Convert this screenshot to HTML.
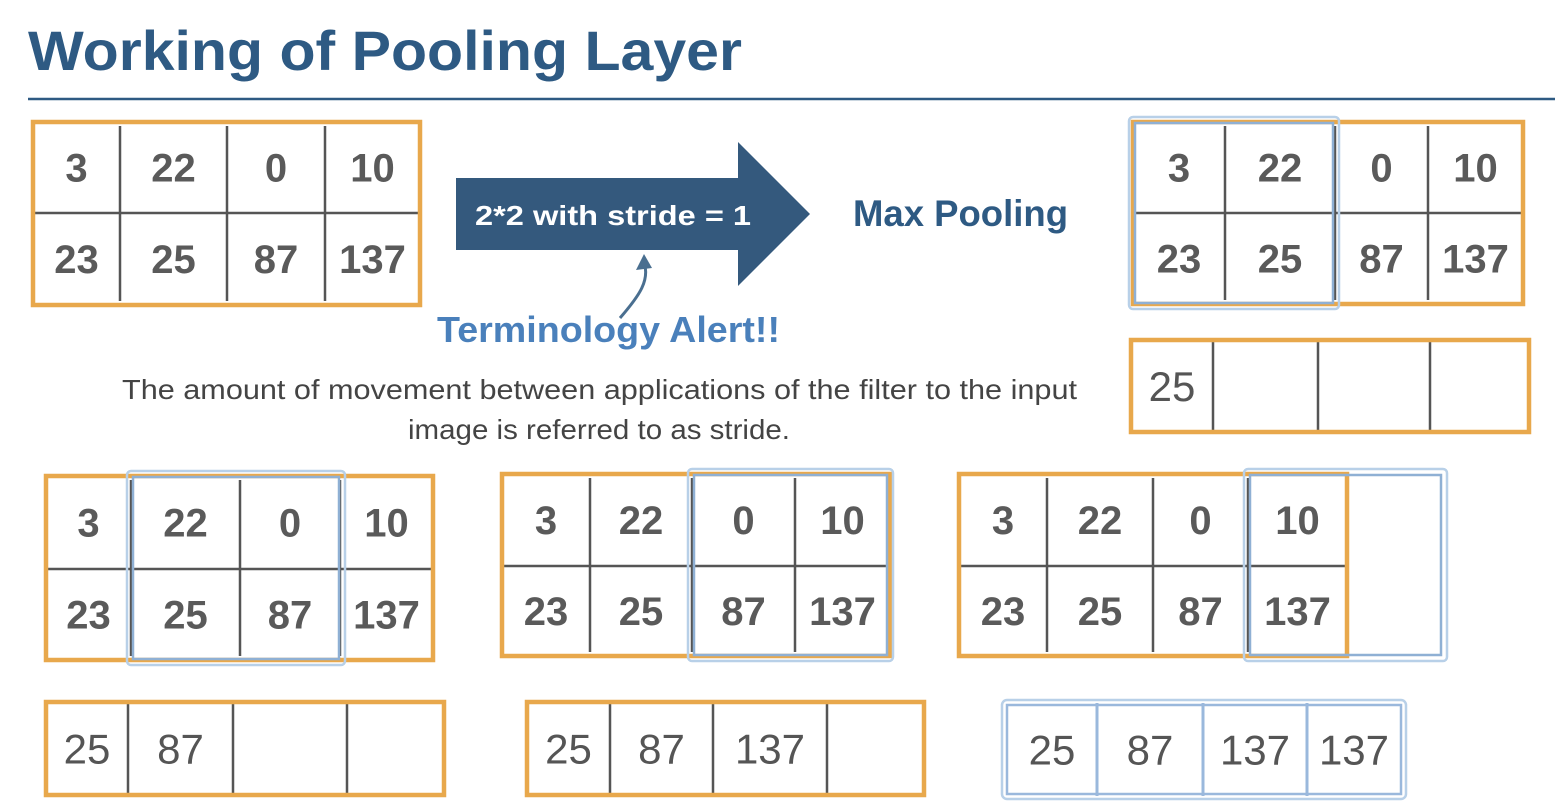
<!DOCTYPE html>
<html><head><meta charset="utf-8"><style>
html,body{margin:0;padding:0;background:#fff;}
svg{display:block;}
</style></head><body>
<svg id="s" width="1562" height="808" viewBox="0 0 1562 808" xmlns="http://www.w3.org/2000/svg">
<text x="28" y="70" textLength="714" lengthAdjust="spacingAndGlyphs" font-family="Liberation Sans, sans-serif" font-weight="bold" font-size="56" fill="#2e5a83">Working of Pooling Layer</text>
<line x1="28" y1="99" x2="1555" y2="99" stroke="#2e5a83" stroke-width="2.5"/>
<g>
<polygon points="456,178 738,178 738,142 810,214 738,286 738,250 456,250" fill="#34597d"/>
<text x="475" y="225" textLength="276" lengthAdjust="spacingAndGlyphs" font-family="Liberation Sans, sans-serif" font-weight="bold" font-size="28" fill="#fff">2*2 with stride = 1</text>
</g>
<text x="853" y="226" textLength="215" lengthAdjust="spacingAndGlyphs" font-family="Liberation Sans, sans-serif" font-weight="bold" font-size="37" fill="#2e5a83">Max Pooling</text>
<path d="M620,318 C640,295 650,280 644,262" fill="none" stroke="#4a6f90" stroke-width="3"/>
<polygon points="644,254 636,270 652,268" fill="#4a6f90"/>
<text x="437" y="342" textLength="343" lengthAdjust="spacingAndGlyphs" font-family="Liberation Sans, sans-serif" font-weight="bold" font-size="36" fill="#4a80bb">Terminology Alert!!</text>
<text x="122" y="399" textLength="955" lengthAdjust="spacingAndGlyphs" font-family="Liberation Sans, sans-serif" font-size="28" fill="#444">The amount of movement between applications of the filter to the input</text>
<text x="408" y="439" textLength="382" lengthAdjust="spacingAndGlyphs" font-family="Liberation Sans, sans-serif" font-size="28" fill="#444">image is referred to as stride.</text>
<g id="g"></g>
</svg>
<script>
const inputValues = [[3,22,0,10],[23,25,87,137]];
const pooledValues = [25,87,137,137];
const NS='http://www.w3.org/2000/svg';
const g=document.getElementById('g');
function mk(tag,attrs,name){const e=document.createElementNS(NS,tag);for(const k in attrs)e.setAttribute(k,attrs[k]);


g.appendChild(e);return e;}
function grid(x0,y0,x1,y1,cols,rowY,win,name){
  const xs=[x0,...cols,x1];
  for(let r=0;r<2;r++)for(let c=0;c<4;c++){
    const t=mk('text',{x:(xs[c]+xs[c+1])/2,y:(r?(rowY+y1)/2:(y0+rowY)/2)+14,'text-anchor':'middle','font-family':'Liberation Sans, sans-serif','font-weight':'bold','font-size':40,fill:'#5a5a5a'},name+'-cell');
    t.textContent=inputValues[r][c];
  }
  cols.forEach(x=>mk('line',{x1:x,y1:y0+4,x2:x,y2:y1-4,stroke:'#555','stroke-width':2.5},name+'-col-divider'));
  mk('line',{x1:x0,y1:rowY,x2:x1,y2:rowY,stroke:'#555','stroke-width':2.5},name+'-row-divider');
  mk('rect',{x:x0,y:y0,width:x1-x0,height:y1-y0,fill:'none',stroke:'#e8a84c','stroke-width':4.5},name+'-border');
  if(win){mk('rect',{x:win[0]-4,y:y0-5,width:win[1]-win[0]+8,height:y1-y0+10,rx:4,fill:'none',stroke:'#b8d0e8','stroke-width':2.5},name+'-window-outer');
   mk('rect',{x:win[0]+2,y:y0+1,width:win[1]-win[0]-4,height:y1-y0-2,fill:'none',stroke:'#8fb0d4','stroke-width':2.5},name+'-window');}
}
function out(x0,y0,x1,y1,cols,n,blue,name){
  const xs=[x0,...cols,x1];
  for(let i=0;i<n;i++){const t=mk('text',{x:(xs[i]+xs[i+1])/2,y:(y0+y1)/2+15,'text-anchor':'middle','font-family':'Liberation Sans, sans-serif','font-size':42,fill:'#555'},name+'-value');t.textContent=pooledValues[i];}
  const col=blue?'#9ab8dc':'#555';
  cols.forEach(x=>mk('line',{x1:x,y1:y0+(blue?-2:2),x2:x,y2:y1-(blue?-2:2),stroke:col,'stroke-width':blue?3:2.5},name+'-divider'));
  if(blue){mk('rect',{x:x0-5,y:y0-5,width:x1-x0+10,height:y1-y0+10,rx:5,fill:'none',stroke:'#b8d0e8','stroke-width':2.5},name+'-outer');
   mk('rect',{x:x0,y:y0,width:x1-x0,height:y1-y0,fill:'none',stroke:'#9ab8dc','stroke-width':2.5},name+'-border');}
  else mk('rect',{x:x0,y:y0,width:x1-x0,height:y1-y0,fill:'none',stroke:'#e8a84c','stroke-width':4.5},name+'-border');
}
grid(33,122,420,305,[120,227,325],213,null,'input-grid');
grid(1133,122,1523,304,[1225,1335,1428],213,[1133,1335],'step1-grid');
out(1131,340,1529,432,[1213,1318,1430],1,false,'step1-output');
grid(46,476,433,660,[131,240,340],569,[131,341],'step2-grid');
grid(502,474,890,656,[590,692,795],566,[692,889],'step3-grid');
grid(959,474,1347,656,[1047,1153,1248],566,[1248,1443],'step4-grid');
out(46,702,444,795,[128,233,347],2,false,'step2-output');
out(527,702,924,795,[610,713,827],3,false,'step3-output');
out(1007,705,1401,794,[1097,1203,1307],4,true,'final-output');
</script>
</body></html>
